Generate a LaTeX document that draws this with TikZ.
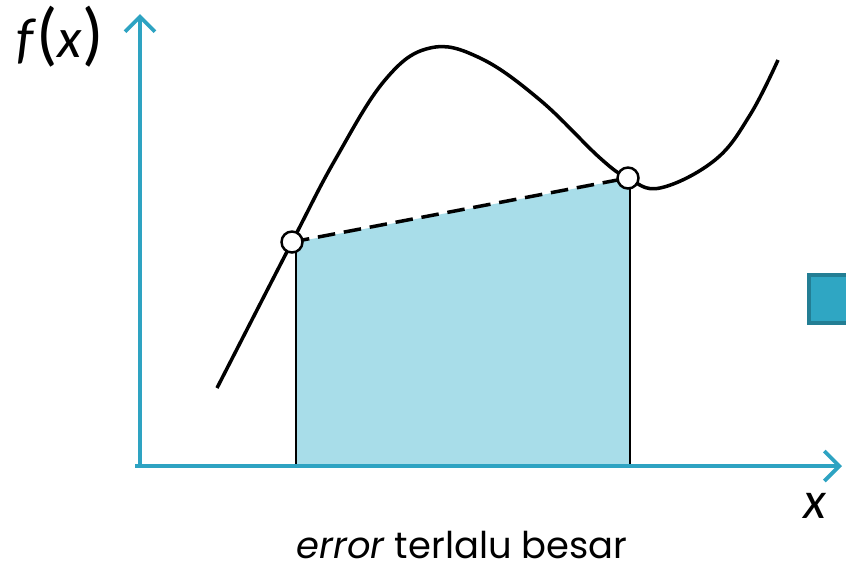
\documentclass[tikz,border=0pt]{standalone}
\usepackage{fontspec}
\setmainfont{Carlito}
\newfontfamily\gothic{Poppins}
\usepackage{tikz}
\usetikzlibrary{positioning,arrows.meta,calc}
\definecolor{axisteal}{HTML}{2EA3C2}
\definecolor{areablue}{HTML}{A8DDE9}
\definecolor{boxteal}{HTML}{2FA6C3}
\definecolor{boxedge}{HTML}{237E94}
\newcommand{\bigparen}[1]{{\fontsize{40}{40}\selectfont #1}}

\begin{document}
\begin{tikzpicture}[
    x=0.02cm, y=-0.02cm,
    axis/.style={draw=axisteal, line width=2.2pt, -{Straight Barb[length=3mm, width=6mm, line width=2.2pt]}},
    curve/.style={draw=black, line width=2pt},
    chord/.style={draw=black, line width=2pt, dash pattern=on 10pt off 5pt},
    edge/.style={draw=black, line width=0.9pt},
    pt/.style={circle, draw=black, fill=white, line width=1.4pt, minimum size=0.42cm, inner sep=0pt}
]
\useasboundingbox (0,0) rectangle (846,569);

% axes
\coordinate (o) at (140,466);
\coordinate (ytop) at (140,14);
\coordinate (xend) at (842,466);
\coordinate (xstart) at (135,466);

% trapezoid area under the chord
\coordinate (a) at (296,466);
\coordinate (b) at (630,466);
\fill[areablue] (a) -- (296,242) -- (630,178) -- (b) -- cycle;
\draw[edge] (a) -- (296,242);
\draw[edge] (b) -- (630,178);

\draw[axis] (o) -- (ytop);
\draw[axis] (xstart) -- (xend);

% the function
\draw[curve] plot[smooth, tension=0.65] coordinates {(217,388) (292,242) (335,160) (385,80) (430,48) (480,58) (540,100) (600,158) (628,178) (660,188) (715,160) (750,115) (778,60)};

\draw[chord] (292,242) -- (628,178);
\node[pt] (p1) at (292,242) {};
\node[pt] (p2) at (628,178) {};

% labels
\node[font=\fontsize{32}{36}\selectfont, anchor=base] (fx) at (60,57) {\textit{f}\bigparen{(}\textit{x}\bigparen{)}};
\node[font=\fontsize{30}{34}\selectfont\itshape] (xl) at (815,506) {x};
\node[font=\gothic\fontsize{21}{24}\selectfont, anchor=base, inner sep=1pt, text depth=0pt] (cap) at (462,558) {\textit{error} terlalu besar};

% side marker
\filldraw[fill=boxteal, draw=boxedge, line width=1.8pt] (809,275) rectangle (870,323);
\end{tikzpicture}
\end{document}
